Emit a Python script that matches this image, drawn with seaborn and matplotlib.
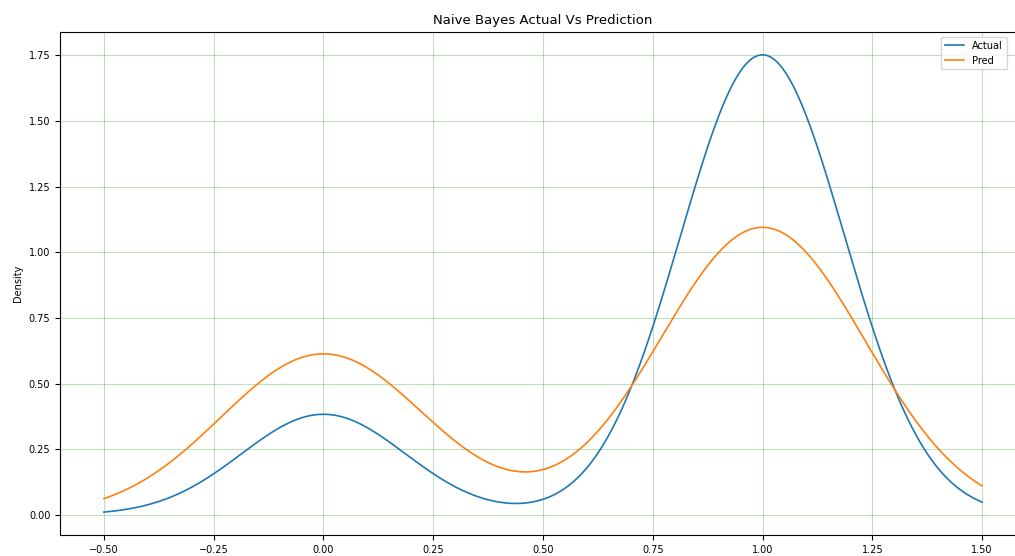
import matplotlib
matplotlib.use("Agg")
import matplotlib.pyplot as plt
import seaborn as sns
import pandas as pd
import numpy as np

# test labels vs naive bayes predictions (0 / 1), 39 samples
actual = [1, 1, 0, 1, 1, 1, 1, 0, 1, 1, 1, 1, 1, 0, 1, 1, 1, 1, 1, 1,
          0, 1, 1, 1, 1, 1, 0, 1, 1, 1, 1, 1, 0, 1, 1, 1, 1, 0, 1]
pred = [1, 1, 0, 1, 0, 1, 1, 0, 1, 1, 0, 1, 1, 0, 1, 0, 1, 1, 1, 0,
        0, 1, 1, 0, 1, 1, 0, 1, 0, 1, 1, 1, 0, 1, 0, 1, 1, 0, 1]
series_names = ["Actual", "Pred"]
x_range = (-0.5, 1.5)

fig = plt.figure(figsize=(10.15, 5.56), dpi=100)
# axes runs slightly past the right edge (the original was cropped)
ax = fig.add_axes([0.0591, 0.0378, 0.9517, 0.9047])

for name, values in zip(series_names, [actual, pred]):
    sns.kdeplot(x=np.array(values, dtype=float), ax=ax, label=name,
                bw_method="scott", cut=10, clip=x_range, gridsize=1000,
                linewidth=1.2)

# let the y axis get its normal margin below zero
for line in ax.lines:
    line.sticky_edges.y.clear()
ax.relim()
ax.autoscale_view()

ax.set_title("Naive Bayes Actual Vs Prediction", fontsize=9.5)
ax.set_ylabel("Density", fontsize=7)
ax.set_xlabel("")
ax.set_xticks(np.arange(-0.5, 1.51, 0.25))
ax.tick_params(labelsize=7)
ax.grid(True, color="g", alpha=0.25, linewidth=0.8)
ax.legend(loc="upper right", fontsize=7, bbox_to_anchor=(0.985, 1.0))

fig.savefig("out.png", dpi=100)
